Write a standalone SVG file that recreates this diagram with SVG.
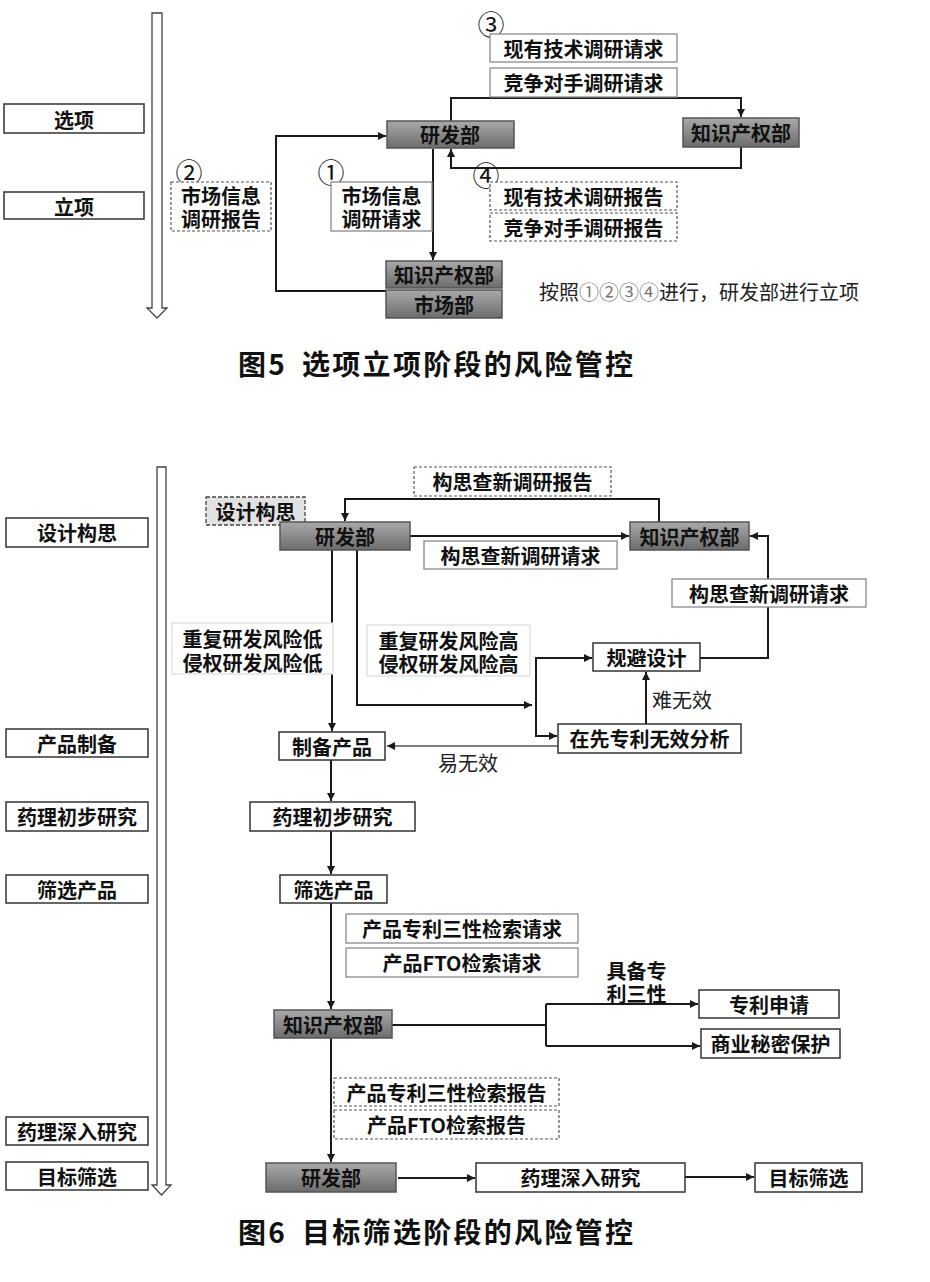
<svg xmlns="http://www.w3.org/2000/svg" width="930" height="1282" viewBox="0 0 930 1282">
<style>
text{font-family:"Noto Sans CJK SC","Noto Sans",sans-serif;fill:#111;}
.t{font-size:20px;font-weight:bold;text-anchor:middle;dominant-baseline:central;}
.l{font-size:20px;font-weight:normal;dominant-baseline:central;fill:#222;}
.c{font-size:27px;text-anchor:middle;dominant-baseline:central;}
.cap{font-size:28px;font-weight:bold;letter-spacing:2.3px;}
.box{fill:#fff;stroke:#333;stroke-width:1.5;}
.lbox{fill:#fff;stroke:#8a8a8a;stroke-width:1.3;}
.vlbox{fill:#fff;stroke:#dcdcdc;stroke-width:1.2;}
.dbox{fill:#fff;stroke:#555;stroke-width:1.2;stroke-dasharray:3 2;}
.gbox{fill:url(#g);stroke:#555;stroke-width:1.5;}
.big{fill:#fff;stroke:#444;stroke-width:1.3;}
.ln{fill:none;stroke:#1a1a1a;stroke-width:2;}
.ar{marker-end:url(#a);}
.gl{fill:none;stroke:#555;stroke-width:1.5;}
</style>
<defs>
<linearGradient id="g" x1="0" y1="0" x2="0" y2="1">
<stop offset="0" stop-color="#a9a9a9"/>
<stop offset="1" stop-color="#6c6c6c"/>
</linearGradient>
<marker id="a" viewBox="0 0 10 10" refX="10" refY="5" markerWidth="9" markerHeight="8" markerUnits="userSpaceOnUse" orient="auto">
<path d="M0,0 L10,5 L0,10 Z" fill="#1a1a1a"/>
</marker>
</defs>

<!-- ===== Figure 5 ===== -->
<g id="f5-timeline">
<path class="big" d="M152,13 H162 V308 H167 L157,318 L147,308 H152 Z"/>
</g>
<g id="f5-stage-xuanxiang"><rect class="box" x="4" y="104" width="140" height="29"/><text class="t" x="74" y="119">选项</text></g>
<g id="f5-stage-lixiang"><rect class="box" x="4" y="192" width="140" height="27"/><text class="t" x="74" y="206">立项</text></g>

<g id="f5-connectors">
<path class="ln ar" d="M451,121 V98 H741 V117"/>
<path class="ln ar" d="M741,147 V168 H451 V149"/>
<path class="ln ar" d="M433,149 V260"/>
<path class="ln ar" d="M386,291 H276 V136 H386"/>
</g>

<g id="f5-rd"><rect class="gbox" x="387" y="121" width="127" height="27"/><text class="t" x="450" y="134.5">研发部</text></g>
<g id="f5-ip"><rect class="gbox" x="683" y="118" width="116" height="29"/><text class="t" x="741" y="132.5">知识产权部</text></g>
<g id="f5-ip2"><rect class="gbox" x="386" y="261" width="116" height="27"/><text class="t" x="444" y="274.5">知识产权部</text></g>
<g id="f5-market"><rect class="gbox" x="386" y="290" width="116" height="28"/><text class="t" x="444" y="304">市场部</text></g>

<g id="f5-req3">
<text class="c" x="491" y="23">③</text>
<rect class="lbox" x="490" y="34" width="187" height="28"/><text class="t" x="583.5" y="48">现有技术调研请求</text>
<rect class="lbox" x="490" y="68" width="187" height="29"/><text class="t" x="583.5" y="82.5">竞争对手调研请求</text>
</g>
<g id="f5-rep4">
<text class="c" x="486" y="174">④</text>
<rect class="dbox" x="490" y="182" width="187" height="28"/><text class="t" x="583.5" y="196">现有技术调研报告</text>
<rect class="dbox" x="490" y="213" width="187" height="28"/><text class="t" x="583.5" y="227">竞争对手调研报告</text>
</g>
<g id="f5-rep2">
<text class="c" x="189" y="171">②</text>
<rect class="dbox" x="171" y="182" width="100" height="49"/>
<text class="t" x="221" y="195">市场信息<tspan x="221" y="218">调研报告</tspan></text>
</g>
<g id="f5-req1">
<text class="c" x="331" y="171">①</text>
<rect class="lbox" x="331" y="182" width="101" height="49"/>
<text class="t" x="381.5" y="195">市场信息<tspan x="381.5" y="218">调研请求</tspan></text>
</g>
<text class="l" x="539" y="291">按照<tspan fill="#777">①②③④</tspan>进行，研发部进行立项</text>

<text class="cap" x="238" y="375">图5</text>
<text class="cap" x="302" y="375">选项立项阶段的风险管控</text>

<!-- ===== Figure 6 ===== -->
<g id="f6-timeline">
<path class="big" d="M157,467 H166 V1185 H171 L161.5,1195 L152,1185 H157 Z"/>
</g>
<g id="f6-stage1"><rect class="box" x="6" y="518" width="142" height="29"/><text class="t" x="77" y="532.5">设计构思</text></g>
<g id="f6-stage2"><rect class="box" x="6" y="729" width="142" height="28"/><text class="t" x="77" y="743">产品制备</text></g>
<g id="f6-stage3"><rect class="box" x="6" y="802" width="142" height="29"/><text class="t" x="77" y="816.5">药理初步研究</text></g>
<g id="f6-stage4"><rect class="box" x="6" y="875" width="142" height="28"/><text class="t" x="77" y="889">筛选产品</text></g>
<g id="f6-stage5"><rect class="box" x="6" y="1117" width="142" height="28"/><text class="t" x="77" y="1131">药理深入研究</text></g>
<g id="f6-stage6"><rect class="box" x="6" y="1162" width="142" height="28"/><text class="t" x="77" y="1176">目标筛选</text></g>

<g id="f6-connectors">
<path class="ln ar" d="M659,522 V499 H345 V521"/>
<path class="ln ar" d="M410,536 H629"/>
<path class="ln ar" d="M332,550 V731"/>
<path class="ln ar" d="M357,550 V705 H532"/>
<path class="ln ar" d="M536,697 V658 H592"/>
<path class="ln ar" d="M536,697 V736 H557"/>
<path class="ln ar" d="M646,724 V672"/>
<path class="gl ar" d="M558,746 H387"/>
<path class="ln ar" d="M700,658 H768 V536 H750"/>
<path class="ln ar" d="M331,760 V801"/>
<path class="ln ar" d="M331,831 V874"/>
<path class="ln ar" d="M331,903 V1009"/>
<path class="ln" d="M392,1025 H546 M546,1004 V1046"/>
<path class="ln ar" d="M546,1004 H698"/>
<path class="ln ar" d="M546,1046 H700"/>
<path class="ln ar" d="M331,1038 V1162"/>
<path class="ln ar" d="M398,1178 H475"/>
<path class="ln ar" d="M685,1177 H754"/>
</g>

<g id="f6-design"><rect x="206" y="497" width="99" height="28" fill="#e2e2e2" stroke="#444" stroke-width="1.3" stroke-dasharray="4 2"/><text class="t" x="255.5" y="511">设计构思</text></g>
<g id="f6-rd1"><rect class="gbox" x="280" y="522" width="130" height="28"/><text class="t" x="345" y="536">研发部</text></g>
<g id="f6-ip1"><rect class="gbox" x="630" y="522" width="119" height="28"/><text class="t" x="689.5" y="536">知识产权部</text></g>
<g id="f6-rep-top"><rect class="dbox" x="414" y="467" width="197" height="29"/><text class="t" x="512.5" y="481.5">构思查新调研报告</text></g>
<g id="f6-req-mid"><rect class="lbox" x="424" y="541" width="193" height="28"/><text class="t" x="520.5" y="555">构思查新调研请求</text></g>
<g id="f6-req-right"><rect class="lbox" x="672" y="579" width="194" height="28"/><text class="t" x="769" y="593">构思查新调研请求</text></g>
<g id="f6-low"><rect class="vlbox" x="172" y="623" width="161" height="51"/><text class="t" x="252.5" y="638">重复研发风险低<tspan x="252.5" y="662">侵权研发风险低</tspan></text></g>
<g id="f6-high"><rect class="vlbox" x="367" y="625" width="163" height="51"/><text class="t" x="448.5" y="640">重复研发风险高<tspan x="448.5" y="663">侵权研发风险高</tspan></text></g>
<g id="f6-avoid"><rect class="box" x="593" y="643" width="107" height="28"/><text class="t" x="646.5" y="657">规避设计</text></g>
<text class="l" x="652" y="699">难无效</text>
<g id="f6-invalid"><rect class="box" x="558" y="724" width="183" height="29"/><text class="t" x="649.5" y="738.5">在先专利无效分析</text></g>
<text class="l" x="438" y="762">易无效</text>
<g id="f6-prep"><rect class="box" x="279" y="732" width="106" height="28"/><text class="t" x="332" y="746">制备产品</text></g>
<g id="f6-pharm1"><rect class="box" x="250" y="802" width="165" height="29"/><text class="t" x="332.5" y="816.5">药理初步研究</text></g>
<g id="f6-screen"><rect class="box" x="280" y="875" width="107" height="28"/><text class="t" x="333.5" y="889">筛选产品</text></g>
<g id="f6-req-prod"><rect class="lbox" x="346" y="914" width="232" height="29"/><text class="t" x="462" y="928.5">产品专利三性检索请求</text>
<rect class="lbox" x="346" y="948" width="232" height="29"/><text class="t" x="462" y="962.5">产品FTO检索请求</text></g>
<g id="f6-ip2"><rect class="gbox" x="274" y="1010" width="118" height="28"/><text class="t" x="333" y="1024">知识产权部</text></g>
<text class="t" x="636.5" y="970">具备专<tspan x="636.5" y="993">利三性</tspan></text>
<g id="f6-patent"><rect class="box" x="699" y="990" width="140" height="28"/><text class="t" x="769" y="1004">专利申请</text></g>
<g id="f6-secret"><rect class="box" x="701" y="1029" width="139" height="29"/><text class="t" x="770.5" y="1043.5">商业秘密保护</text></g>
<g id="f6-rep-prod"><rect class="dbox" x="334" y="1078" width="225" height="28"/><text class="t" x="446.5" y="1092">产品专利三性检索报告</text>
<rect class="dbox" x="334" y="1110" width="225" height="29"/><text class="t" x="446.5" y="1124.5">产品FTO检索报告</text></g>
<g id="f6-rd2"><rect class="gbox" x="266" y="1163" width="130" height="29"/><text class="t" x="331" y="1177.5">研发部</text></g>
<g id="f6-pharm2"><rect class="box" x="476" y="1163" width="209" height="29"/><text class="t" x="580.5" y="1177.5">药理深入研究</text></g>
<g id="f6-target"><rect class="box" x="755" y="1163" width="107" height="29"/><text class="t" x="808.5" y="1177.5">目标筛选</text></g>

<text class="cap" x="238" y="1243">图6</text>
<text class="cap" x="302" y="1243">目标筛选阶段的风险管控</text>
</svg>
